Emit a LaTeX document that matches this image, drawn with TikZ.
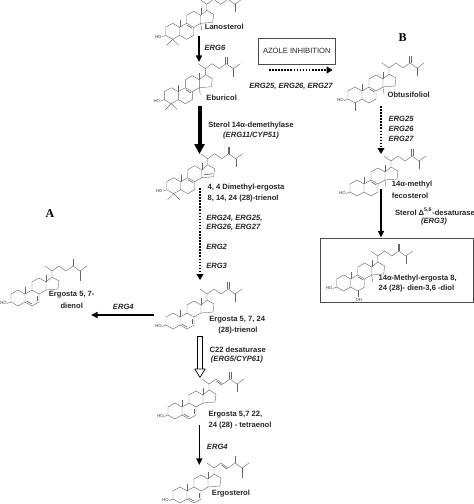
\documentclass[tikz,border=0pt]{standalone}
\usepackage{fontspec}
\setmainfont{Liberation Sans}
\newfontfamily\lettersf{Liberation Serif}
\usetikzlibrary{arrows.meta}

\tikzset{
    molline/.style={line width=0.3pt, draw=black!60},
    pics/sterolcore/.style={code={
        \draw[molline] (0,4) -- (7,0) -- (14,4) -- (14,12) -- (7,16) -- (0,12) -- cycle;
        \draw[molline] (14,4) -- (21,0) -- (28,4) -- (28,12) -- (21,16) -- (14,12);
        \draw[molline] (21,0) -- (21,-8) -- (28,-12) -- (35,-8) -- (35,0) -- (28,4);
        \draw[molline] (35,-8) -- (41,-13) -- (48,-9) -- (47,-1) -- (35,0);
        \draw[molline] (14,4) -- (14,-3) (35,-8) -- (35,-15);
        \node[hotext, anchor=east] (ho) at (-4,13.5) {HO};
        \draw[molline] (0,12) -- (-4,13.5);
    }},
    pics/chainmeth/.style={code={
        \draw[molline] (41,-13) -- (41,-19) (34,-24) -- (41,-19) -- (48,-24) -- (55,-19) -- (62,-24) -- (69,-19) -- (76,-24);
        \draw[molline] (69,-19) -- (69,-11);
        \draw[molline] (61.3,-24) -- (61.3,-31) (62.9,-24) -- (62.9,-31);
    }},
    pics/chainmethyl/.style={code={
        \draw[molline] (41,-13) -- (41,-19) (34,-24) -- (41,-19) -- (48,-24) -- (55,-19) -- (62,-24) -- (69,-19) -- (76,-24);
        \draw[molline] (69,-19) -- (69,-9) (62,-24) -- (62,-31);
    }},
    pics/dbeight/.style={code={\draw[molline, line width=0.5pt] (21.5,2) -- (26.5,5);}},
    pics/dbfive/.style={code={\draw[molline, line width=0.5pt] (15.5,11) -- (21,14);}},
    pics/dbseven/.style={code={\draw[molline, line width=0.5pt] (26,6) -- (26,11);}},
    pics/dbfifteen/.style={code={\draw[molline, line width=0.5pt] (37,-3) -- (46,-4);}},
    pics/dbtwentytwo/.style={code={\draw[molline, line width=0.5pt] (48.5,-22) -- (54,-18);}},
    pics/mefourteen/.style={code={\draw[molline] (35,0) -- (36,7);}},
    pics/gemfour/.style={code={\draw[molline] (7,16) -- (1,22) (7,16) -- (13,22);}},
    pics/mefour/.style={code={\draw[molline] (7,16) -- (7,24);}},
    pics/ohsix/.style={code={
        \draw[molline] (21,16) -- (21,22);
        \node[hotext] (oh) at (22,25.5) {OH};
    }},
    hotext/.style={font=\fontsize{3.2}{4}\selectfont, inner sep=0pt, text=black!80},
    lbl/.style={font=\fontsize{5.7}{7}\selectfont\bfseries, inner sep=0pt, text=black!85},
    genelbl/.style={lbl, font=\fontsize{5.7}{7}\selectfont\bfseries\itshape},
    lettertxt/.style={font=\fontsize{9}{10}\lettersf\bfseries, inner sep=0pt},
    thinarrow/.style={-{Triangle[length=5pt,width=4.5pt]}, line width=1.1pt},
    dotarrow/.style={-{Triangle[length=4.5pt,width=5pt]}, line width=1.2pt, dash pattern=on 1.2pt off 1.1pt}
}

\newcommand{\sterol}[3]{
    \coordinate (#1) at (#2);
    \foreach \piece in {sterolcore,#3} {\pic (#1) at (#1) {\piece};}
}

\begin{document}
\begin{tikzpicture}[x=0.75pt, y=-0.75pt]
    \useasboundingbox (0,0) rectangle (474,504);
    \clip (0,0) rectangle (474,504);

    % Molecules
    \sterol{lano}{165.7,23.3}{chainmeth,dbeight,mefourteen,gemfour}
    \sterol{ebur}{164.3,87.7}{chainmeth,dbeight,mefourteen,gemfour}
    \sterol{obtu}{348,87}{chainmeth,dbeight,mefourteen,mefour}
    \sterol{dime}{166.7,177.7}{chainmeth,dbeight,dbfifteen,gemfour}
    \sterol{feco}{350,180}{chainmeth,dbeight,mefourteen}
    \sterol{diol}{336.7,275}{chainmeth,dbeight,mefourteen,ohsix}
    \sterol{trie}{166,313}{chainmeth,dbfive,dbseven}
    \sterol{dien}{11,290}{chainmethyl,dbfive,dbseven}
    \sterol{tetr}{168,403}{chainmeth,dbfive,dbseven,dbtwentytwo}
    \sterol{ergo}{173,487}{chainmethyl,dbfive,dbseven,dbtwentytwo}

    % Boxes
    \node[draw=black!70, line width=0.5pt, minimum width=57.7pt, minimum height=19.5pt, inner sep=0pt,
          font=\fontsize{5.7}{7}\selectfont, text=black!85] (azole) at (296.8,51.3) {AZOLE INHIBITION};
    \node[draw=black!70, line width=0.5pt, minimum width=114.5pt, minimum height=48.3pt, inner sep=0pt] (diolbox) at (397,270.5) {};

    % Letters
    \node[lettertxt] (letterA) at (50,214) {A};
    \node[lettertxt] (letterB) at (402.7,37.3) {B};

    % Compound names
    \node[lbl] (lanoname) at (224.3,26.7) {Lanosterol};
    \node[lbl] (eburname) at (221.7,97.3) {Eburicol};
    \node[lbl] (obtuname) at (408.7,94.7) {Obtusifoliol};
    \node[lbl, anchor=west] (dimename) at (207.3,187.3) {4, 4 Dimethyl-ergosta};
    \node[lbl, anchor=west] (dimenameb) at (207.3,198.3) {8, 14, 24 (28)-trienol};
    \node[lbl, anchor=west] (feconame) at (391.7,184.3) {14α-methyl};
    \node[lbl, anchor=west] (feconameb) at (391.7,195.3) {fecosterol};
    \node[lbl, anchor=west] (diolname) at (378.3,278.3) {14α-Methyl-ergosta 8,};
    \node[lbl, anchor=west] (diolnameb) at (378.3,289) {24 (28)- dien-3,6 -diol};
    \node[lbl] (dienname) at (71.7,295) {Ergosta 5, 7-};
    \node[lbl] (diennameb) at (71.7,305.7) {dienol};
    \node[lbl, anchor=west] (triename) at (209,320) {Ergosta 5, 7, 24};
    \node[lbl, anchor=west] (trienameb) at (218,330.7) {(28)-trienol};
    \node[lbl, anchor=west] (tetrname) at (208.3,415) {Ergosta 5,7 22,};
    \node[lbl, anchor=west] (tetrnameb) at (208.3,425.7) {24 (28) - tetraenol};
    \node[lbl, anchor=west] (ergoname) at (211.7,494) {Ergosterol};

    % Enzymes and genes
    \node[genelbl] (ergsix) at (215,48.3) {ERG6};
    \node[genelbl] (ergazole) at (291,86.7) {ERG25, ERG26, ERG27};
    \node[lbl] (demeth) at (251,126) {Sterol 14α-demethylase};
    \node[genelbl] (demethgene) at (251,135.7) {(ERG11/CYP51)};
    \node[genelbl, anchor=west] (ergobta) at (388.3,119) {ERG25};
    \node[genelbl, anchor=west] (ergobtb) at (388.3,129) {ERG26};
    \node[genelbl, anchor=west] (ergobtc) at (388.3,138.7) {ERG27};
    \node[genelbl, anchor=west] (ergmany) at (206,218) {ERG24, ERG25,};
    \node[genelbl, anchor=west] (ergmanyb) at (206,227.3) {ERG26, ERG27};
    \node[genelbl, anchor=west] (ergtwo) at (206,246.7) {ERG2};
    \node[genelbl, anchor=west] (ergthree) at (206,266) {ERG3};
    \node[lbl] (desat) at (435,211.7) {Sterol Δ\textsuperscript{5,6}-desaturase};
    \node[genelbl] (desatgene) at (434,221.3) {(ERG3)};
    \node[genelbl] (ergfourleft) at (123.3,307.3) {ERG4};
    \node[lbl, anchor=west] (cdesat) at (209.3,350) {C22 desaturase};
    \node[genelbl, anchor=west] (cdesatgene) at (210.7,360) {(ERG5/CYP61)};
    \node[genelbl, anchor=west] (ergfourdown) at (206.7,447.3) {ERG4};

    % Connector ends
    \coordinate (lanoout) at (199,36);
    \coordinate (eburin) at (199,62);
    \coordinate (eburout) at (199.5,105.7);
    \coordinate (dimein) at (199.5,154);
    \coordinate (dimeout) at (200,188);
    \coordinate (triein) at (200,280);
    \coordinate (trieout) at (200,336.7);
    \coordinate (tetrin) at (200,378);
    \coordinate (tetrout) at (199.3,425);
    \coordinate (ergoin) at (199.3,465);
    \coordinate (trieleft) at (154,315);
    \coordinate (dienin) at (91,315);
    \coordinate (azoleout) at (269,70);
    \coordinate (obtuin) at (332.7,70);
    \coordinate (obtuout) at (381,106);
    \coordinate (fecoin) at (381,154);
    \coordinate (fecoout) at (381,189.3);
    \coordinate (boxin) at (381,237.5);

    % Pathway arrows
    \draw[thinarrow] (lanoout) -- (eburin);
    \draw[-{Triangle[length=7.5pt,width=7.5pt]}, line width=3pt] (eburout) -- (dimein);
    \draw[dotarrow] (dimeout) -- (triein);
    \draw[double, double distance=3.6pt, line width=0.5pt,
          -{Triangle[open, length=7pt, width=8.5pt, fill=white]}] (trieout) -- (tetrin);
    \draw[line width=0.5pt] ([xshift=-2.3pt]trieout) -- ([xshift=2.3pt]trieout);
    \draw[thinarrow] (tetrout) -- (ergoin);
    \draw[thinarrow] (trieleft) -- (dienin);
    \draw[dotarrow] (azoleout) -- (obtuin);
    \draw[dotarrow] (obtuout) -- (fecoin);
    \draw[thinarrow] (fecoout) -- (boxin);
\end{tikzpicture}
\end{document}
